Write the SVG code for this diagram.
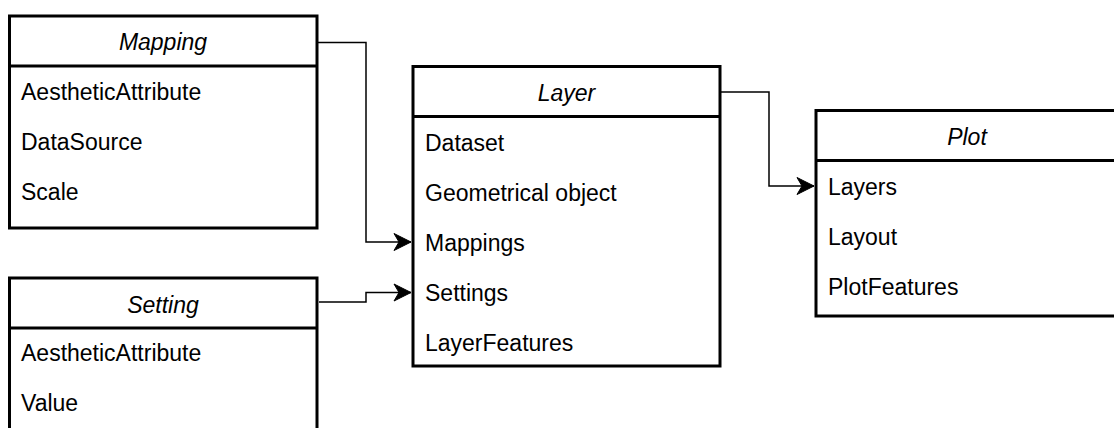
<svg xmlns="http://www.w3.org/2000/svg" width="1114" height="428" viewBox="0 0 1114 428">
<style>
.box{fill:#fff;stroke:#000;stroke-width:3}
.hl{stroke:#000;stroke-width:3}
.t{font-family:"Liberation Sans",Arial,sans-serif;font-size:23px;fill:#000}
.ti{font-style:italic;text-anchor:middle}
.c{fill:none;stroke:#000;stroke-width:1.5}
</style>
<defs>
<marker id="arr" markerUnits="userSpaceOnUse" markerWidth="20" markerHeight="20" refX="17" refY="9" orient="auto" overflow="visible">
<path d="M17,9 L0,0.5 L5,9 L0,17.5 Z" fill="#000" stroke="#000" stroke-width="1"/>
</marker>
</defs>
<g id="connectors">
<path class="c" d="M317,42.5 H366 V242 H411" marker-end="url(#arr)"/>
<path class="c" d="M319,302 H366 V292.5 H411" marker-end="url(#arr)"/>
<path class="c" d="M720,92 H769 V186 H814" marker-end="url(#arr)"/>
</g>
<g id="mapping">
<rect class="box" x="9.5" y="16" width="307.5" height="212"/>
<line class="hl" x1="9.5" y1="66" x2="317" y2="66"/>
<text class="t ti" x="163" y="50">Mapping</text>
<text class="t" x="21" y="100">AestheticAttribute</text>
<text class="t" x="21" y="150">DataSource</text>
<text class="t" x="21" y="200">Scale</text>
</g>
<g id="setting">
<rect class="box" x="9.5" y="278" width="307.5" height="200"/>
<line class="hl" x1="9.5" y1="328" x2="317" y2="328"/>
<text class="t ti" x="163" y="313">Setting</text>
<text class="t" x="21" y="361">AestheticAttribute</text>
<text class="t" x="21" y="411">Value</text>
</g>
<g id="layer">
<rect class="box" x="413" y="66.5" width="307" height="299.5"/>
<line class="hl" x1="413" y1="116.5" x2="720" y2="116.5"/>
<text class="t ti" x="566.5" y="100.5">Layer</text>
<text class="t" x="425" y="151">Dataset</text>
<text class="t" x="425" y="201">Geometrical object</text>
<text class="t" x="425" y="251">Mappings</text>
<text class="t" x="425" y="301">Settings</text>
<text class="t" x="425" y="351">LayerFeatures</text>
</g>
<g id="plot">
<rect class="box" x="816" y="110.5" width="302" height="205.5"/>
<line class="hl" x1="816" y1="160.5" x2="1118" y2="160.5"/>
<text class="t ti" x="967" y="145">Plot</text>
<text class="t" x="828" y="195">Layers</text>
<text class="t" x="828" y="245">Layout</text>
<text class="t" x="828" y="295">PlotFeatures</text>
</g>
</svg>
